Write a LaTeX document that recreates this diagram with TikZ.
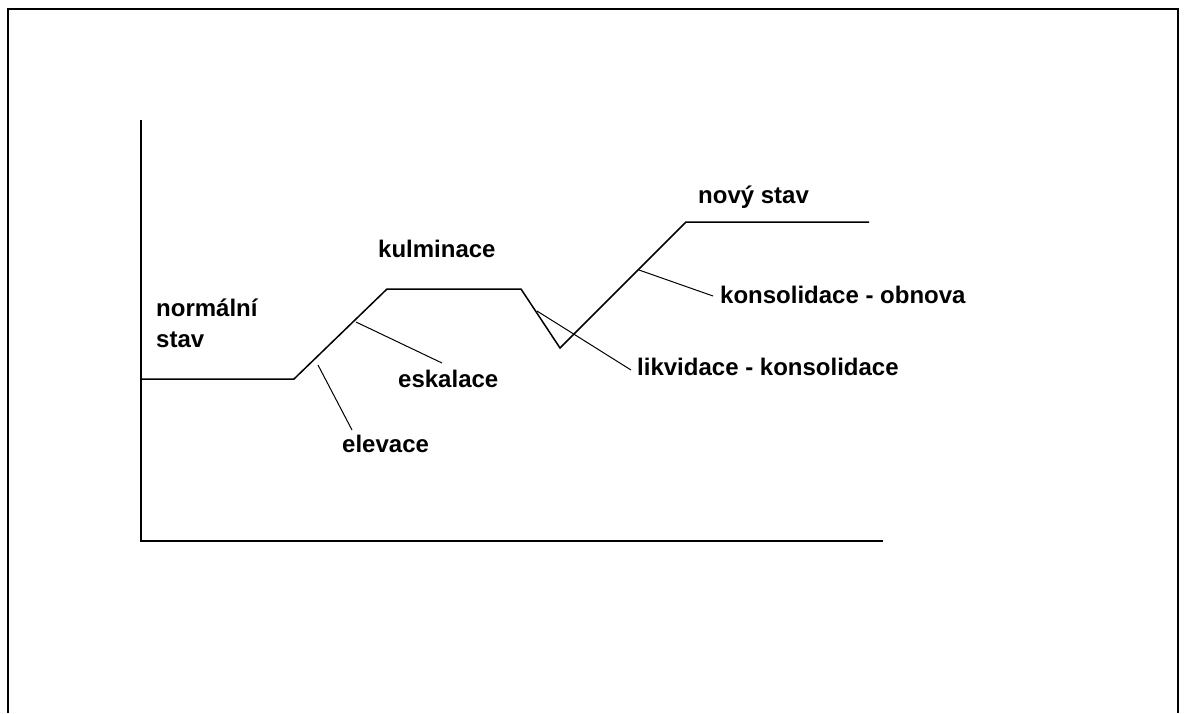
\documentclass[tikz,border=0pt]{standalone}
\usepackage{fontspec}
\setmainfont{Liberation Sans}
\usetikzlibrary{positioning}

\begin{document}
\begin{tikzpicture}[x=1pt, y=-1pt]
  \tikzstyle{label} = [anchor=base west, inner sep=0pt, font=\fontsize{24}{31}\selectfont\bfseries, align=left]
  \tikzstyle{axis} = [line width=2pt]
  \tikzstyle{curve} = [line width=1.5pt]
  \tikzstyle{leader} = [line width=1pt]

  \useasboundingbox (0,0) rectangle (1184,713);

  % Frame
  \draw[line width=2pt] (8,713) -- (8,9) -- (1178,9) -- (1178,713);

  % Axes
  \coordinate (top) at (141,120);
  \coordinate (origin) at (141,541);
  \coordinate (xend) at (883,541);
  \draw[axis] (top) -- (origin) -- (xend);

  % Course of the crisis
  \coordinate (n0) at (141,379);
  \coordinate (n1) at (294,379);
  \coordinate (k0) at (387,289);
  \coordinate (k1) at (521,289);
  \coordinate (dip) at (560,348);
  \coordinate (s0) at (686,222);
  \coordinate (s1) at (869,222);
  \draw[curve] (n0) -- (n1) -- (k0) -- (k1) -- (dip) -- (s0) -- (s1);

  % Labels
  \node (normal) at (156,347) [label] {normální\\stav};
  \node (kulm) at (378,257) [label] {kulminace};
  \node (novy) at (698,203) [label] {nový stav};
  \node (eska) at (398,387) [label] {eskalace};
  \node (elev) at (342,452) [label] {elevace};
  \node (obnova) at (720,303) [label] {konsolidace - obnova};
  \node (likv) at (637,375) [label] {likvidace - konsolidace};

  % Leader lines
  \coordinate (elevA) at (318,365);
  \coordinate (elevB) at (352,430);
  \coordinate (eskaA) at (356,322);
  \coordinate (eskaB) at (442,363);
  \coordinate (likvA) at (537,311);
  \coordinate (likvB) at (631,370);
  \coordinate (obnA) at (639,270);
  \coordinate (obnB) at (713,296);
  \draw[leader] (elevA) -- (elevB);
  \draw[leader] (eskaA) -- (eskaB);
  \draw[leader] (likvA) -- (likvB);
  \draw[leader] (obnA) -- (obnB);
\end{tikzpicture}
\end{document}
